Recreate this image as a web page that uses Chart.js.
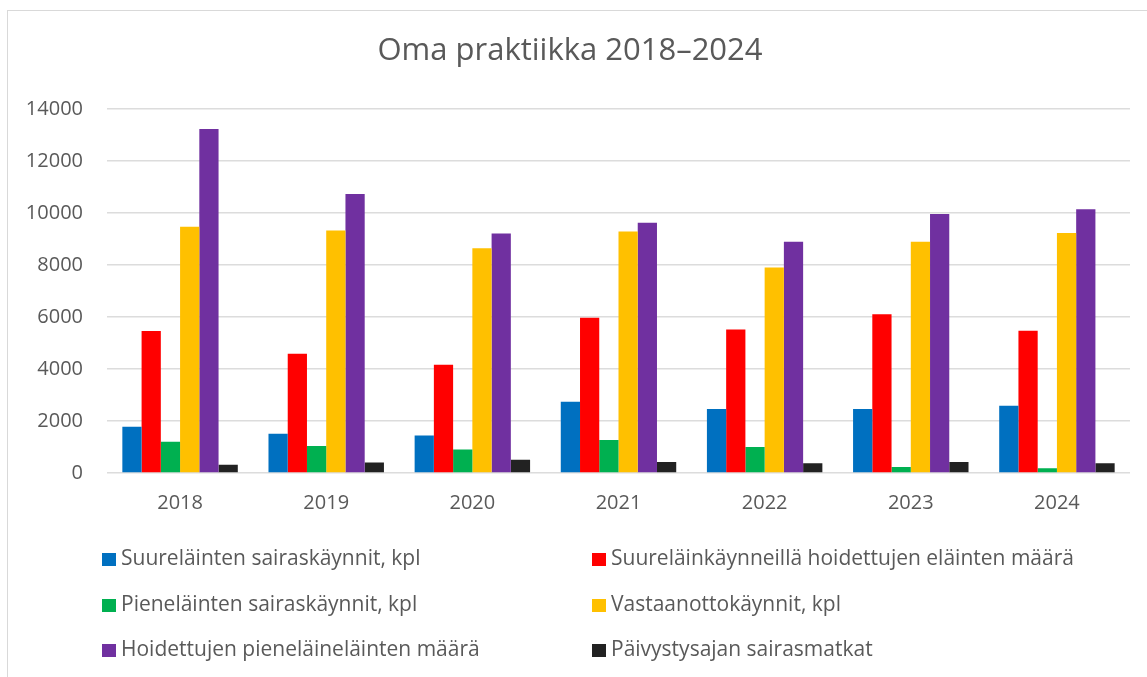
<!DOCTYPE html>
<html>
<head>
<meta charset="utf-8">
<script src="https://cdn.jsdelivr.net/npm/chart.js@4"></script>
<style>
	html, body { margin: 0; padding: 0; background: #fff; }
	#wrap { position: relative; width: 1147px; height: 677px; overflow: hidden; }
	#frame { position: absolute; left: 7px; top: 10px; width: 1160px; height: 700px; border: 1.5px solid #d9d9d9; box-sizing: border-box; }
	canvas { position: absolute; left: 0; top: 0; }
	#legend { position: absolute; left: 0; top: 0; font-family: 'Open Sans', sans-serif; font-size: 21px; color: #595959; }
	.item { position: absolute; white-space: nowrap; line-height: 24px; }
	.item span { display: inline-block; width: 14px; height: 13px; margin-right: 5px; vertical-align: -1px; }
</style>
</head>
<body>
<div id="wrap">
	<div id="frame"></div>
	<canvas id="chart1" width="1147" height="677"></canvas>
	<div id="legend"></div>
</div>
<script>
const YEARS = ['2018', '2019', '2020', '2021', '2022', '2023', '2024'];

const SERIES_NAMES = [
	'Suureläinten sairaskäynnit, kpl',
	'Suureläinkäynneillä hoidettujen eläinten määrä',
	'Pieneläinten sairaskäynnit, kpl',
	'Vastaanottokäynnit, kpl',
	'Hoidettujen pieneläineläinten määrä',
	'Päivystysajan sairasmatkat',
];
const COLORS = ['#0070C0', '#FF0000', '#00B050', '#FFC000', '#7030A0', '#222222'];

const suurelSairas = [1780, 1510, 1440, 2740, 2460, 2460, 2590];
const suurelHoidetut = [5460, 4590, 4170, 5970, 5520, 6110, 5470];
const pienelSairas = [1200, 1040, 900, 1270, 1000, 230, 180];
const vastaanotto = [9480, 9330, 8650, 9290, 7910, 8900, 9240];
const pienelHoidetut = [13240, 10740, 9220, 9630, 8900, 9970, 10150];
const paivystys = [320, 400, 510, 420, 380, 420, 380];

const Y_MAX = 14000;
const Y_STEP = 2000;

const values = [suurelSairas, suurelHoidetut, pienelSairas, vastaanotto, pienelHoidetut, paivystys];
const FONT = "'Open Sans', sans-serif";
const GREY = '#595959';

const chart = new Chart(document.getElementById('chart1'), {
	type: 'bar',
	data: {
		labels: YEARS,
		datasets: values.map((v, i) => ({
			label: SERIES_NAMES[i],
			data: v,
			backgroundColor: COLORS[i],
			borderWidth: 0,
			barPercentage: 1,
			categoryPercentage: 0.79,
		})),
	},
	options: {
		responsive: false,
		animation: false,
		layout: { padding: { left: 10, right: 17, top: 10, bottom: 144 } },
		plugins: {
			legend: { display: false },
			tooltip: { enabled: false },
			title: {
				display: true,
				text: 'Oma praktiikka 2018–2024',
				color: GREY,
				font: { family: FONT, size: 31, weight: 'normal' },
				padding: { top: 23, bottom: 39 },
			},
		},
		scales: {
			x: {
				grid: { display: false, drawTicks: false },
				border: { display: false },
				ticks: { color: GREY, font: { family: FONT, size: 20 }, padding: 18 },
				afterFit: (s) => { s.height = 60; },
			},
			y: {
				min: 0,
				max: Y_MAX,
				ticks: {
					stepSize: Y_STEP,
					color: GREY,
					font: { family: FONT, size: 20 },
					padding: 24,
					callback: (v) => String(v),
				},
				grid: { color: '#dcdcdc', lineWidth: 1.5, drawTicks: false },
				border: { display: false },
				afterFit: (s) => { s.width = 97; },
			},
		},
	},
});

// legend in two fixed columns, like the original
const legendPos = [
	[102, 557], [592, 557],
	[102, 603], [592, 603],
	[102, 648], [592, 648],
];
const legend = document.getElementById('legend');
chart.data.datasets.forEach((ds, i) => {
	const el = document.createElement('div');
	el.className = 'item';
	el.style.left = legendPos[i][0] + 'px';
	el.style.top = (legendPos[i][1] - 12) + 'px';
	el.innerHTML = '<span style="background:' + ds.backgroundColor + '"></span>' + ds.label;
	legend.appendChild(el);
});
</script>
</body>
</html>
